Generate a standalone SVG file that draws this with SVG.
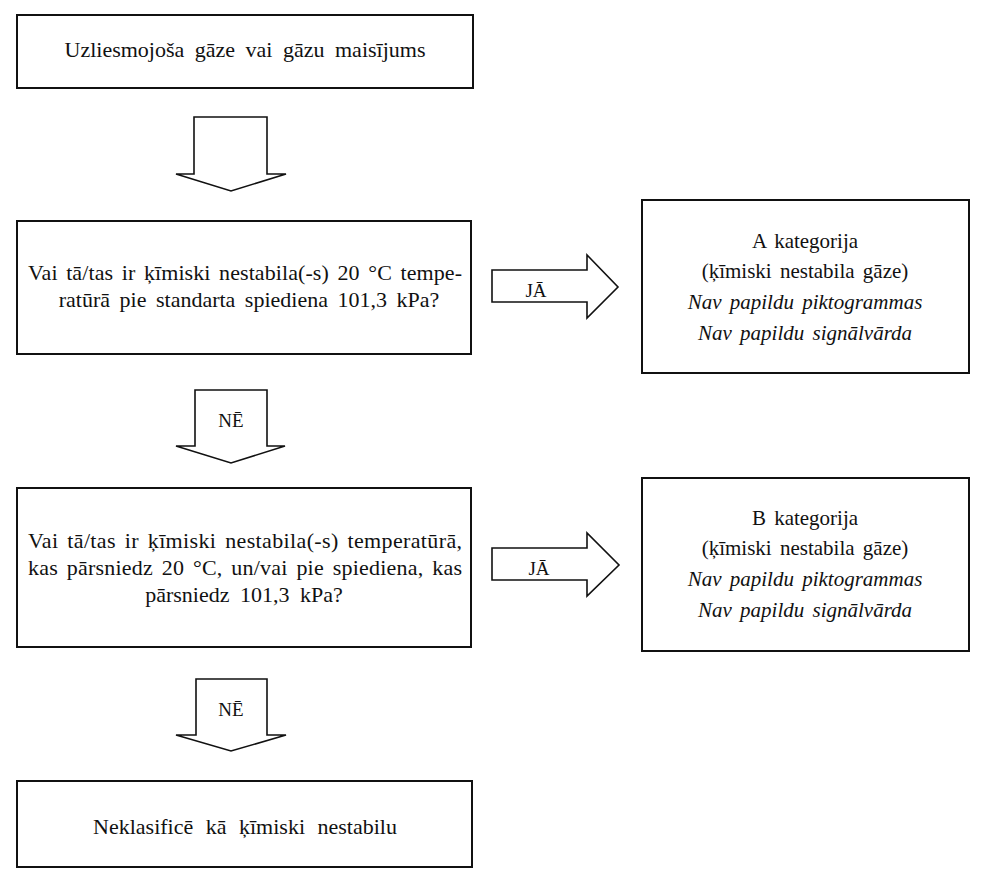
<svg xmlns="http://www.w3.org/2000/svg" width="984" height="892" viewBox="0 0 984 892">
<style>
.box{fill:#fff;stroke:#111;stroke-width:2}
.arr{fill:#fff;stroke:#111;stroke-width:1.6;stroke-linejoin:miter}
text{font-family:"Liberation Serif","Times New Roman",serif;font-size:21px;fill:#111;word-spacing:3px}
.L{font-size:22px}
.c{text-anchor:middle}
.i{font-style:italic}
.lbl{font-size:19px;text-anchor:middle;word-spacing:0}
</style>
<rect width="984" height="892" fill="#fff"/>
<g id="connectors">
  <g id="arrow-start">
    <polygon class="arr" points="194,117 267,117 267,174 286,174 231,191 176,174 194,174"/>
  </g>
  <g id="arrow-q1-yes">
    <polygon class="arr" points="492,270 587,270 587,255 618,287 587,318 587,302 492,302"/>
    <text class="lbl" x="536" y="297">JĀ</text>
  </g>
  <g id="arrow-q1-no">
    <polygon class="arr" points="195,390 267,390 267,446 285,446 231,463 176,446 195,446"/>
    <text class="lbl" x="231" y="427">NĒ</text>
  </g>
  <g id="arrow-q2-yes">
    <polygon class="arr" points="492,548 587,548 587,533 619,565 587,596 587,580 492,580"/>
    <text class="lbl" x="539" y="575">JĀ</text>
  </g>
  <g id="arrow-q2-no">
    <polygon class="arr" points="196,679 267,679 267,735 286,735 231,751 176,735 196,735"/>
    <text class="lbl" x="231" y="716">NĒ</text>
  </g>
</g>
<g id="start">
  <rect class="box" x="17" y="15" width="456" height="73"/>
  <text class="c L" x="245" y="57" style="word-spacing:5px">Uzliesmojoša gāze vai gāzu maisījums</text>
</g>
<g id="q1">
  <rect class="box" x="17" y="221" width="454" height="133"/>
  <text class="L" x="28" y="280" textLength="434" lengthAdjust="spacing">Vai tā/tas ir ķīmiski nestabila(-s) 20 °C tempe-</text>
  <text class="c L" x="249" y="307" style="word-spacing:4px">ratūrā pie standarta spiediena 101,3 kPa?</text>
</g>
<g id="catA">
  <rect class="box" x="642" y="200" width="327" height="173"/>
  <text class="c" x="805" y="248">A kategorija</text>
  <text class="c" x="805" y="278">(ķīmiski nestabila gāze)</text>
  <text class="c i" x="805" y="309">Nav papildu piktogrammas</text>
  <text class="c i" x="805" y="340">Nav papildu signālvārda</text>
</g>
<g id="q2">
  <rect class="box" x="17" y="488" width="454" height="159"/>
  <text class="L" x="28" y="548" textLength="434" lengthAdjust="spacing">Vai tā/tas ir ķīmiski nestabila(-s) temperatūrā,</text>
  <text class="L" x="28" y="575" textLength="434" lengthAdjust="spacing">kas pārsniedz 20 °C, un/vai pie spiediena, kas</text>
  <text class="c L" x="244" y="602" style="word-spacing:5px">pārsniedz 101,3 kPa?</text>
</g>
<g id="catB">
  <rect class="box" x="642" y="478" width="327" height="173"/>
  <text class="c" x="805" y="525">B kategorija</text>
  <text class="c" x="805" y="555">(ķīmiski nestabila gāze)</text>
  <text class="c i" x="805" y="586">Nav papildu piktogrammas</text>
  <text class="c i" x="805" y="617">Nav papildu signālvārda</text>
</g>
<g id="result">
  <rect class="box" x="17" y="781" width="455" height="86"/>
  <text class="c L" x="245" y="834" style="word-spacing:7px">Neklasificē kā ķīmiski nestabilu</text>
</g>
</svg>
